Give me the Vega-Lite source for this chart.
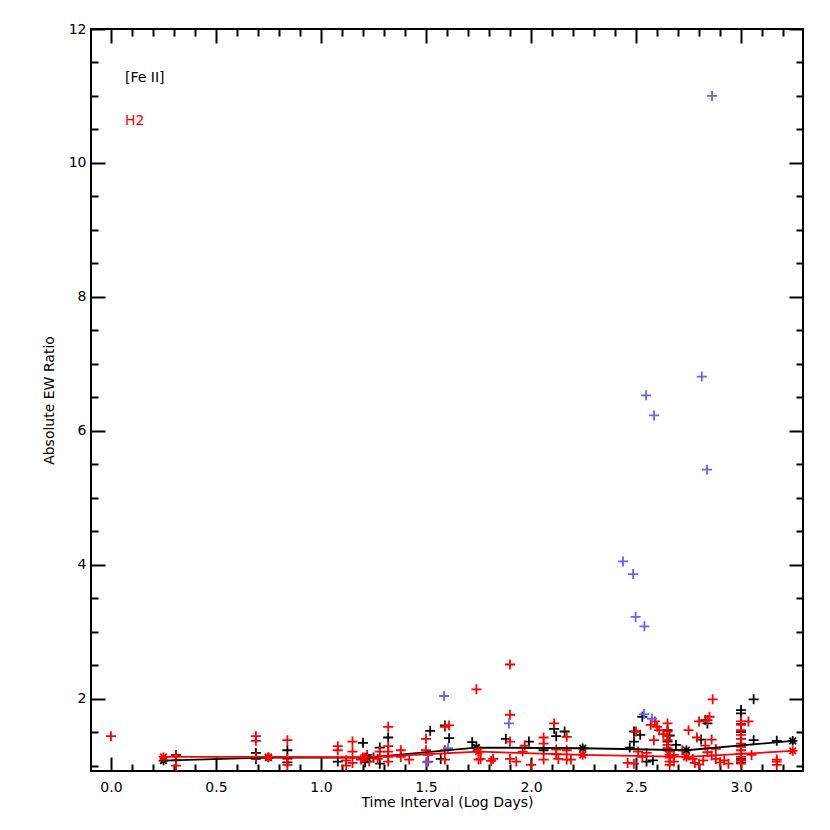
{
  "$schema": "https://vega.github.io/schema/vega-lite/v6.json",
  "width": 712,
  "height": 742,
  "autosize": {"type": "none"},
  "padding": {"left": 91, "top": 29, "right": 27, "bottom": 59},
  "background": "white",
  "config": {
    "view": {"stroke": "black", "strokeWidth": 2},
    "axis": {"labelFont": "DejaVu Sans", "titleFont": "DejaVu Sans", "labelColor": "black", "titleColor": "black", "labelFontSize": 14, "titleFontSize": 14, "titleFontWeight": "normal", "grid": false, "domain": false, "tickColor": "black", "tickWidth": 2}
  },
  "datasets": {
    "pts": [
      {"x": 0.31, "y": 1.16, "s": "F"}, {"x": 0.69, "y": 1.19, "s": "F"}, {"x": 0.69, "y": 1.10, "s": "F"},
      {"x": 0.84, "y": 1.23, "s": "F"}, {"x": 0.84, "y": 1.05, "s": "F"}, {"x": 1.08, "y": 1.06, "s": "F"},
      {"x": 1.20, "y": 1.34, "s": "F"}, {"x": 1.21, "y": 1.05, "s": "F"}, {"x": 1.25, "y": 1.12, "s": "F"},
      {"x": 1.28, "y": 1.27, "s": "F"}, {"x": 1.28, "y": 1.03, "s": "F"}, {"x": 1.32, "y": 1.42, "s": "F"},
      {"x": 1.52, "y": 1.52, "s": "F"}, {"x": 1.57, "y": 1.10, "s": "F"}, {"x": 1.59, "y": 1.60, "s": "F"},
      {"x": 1.61, "y": 1.41, "s": "F"}, {"x": 1.72, "y": 1.35, "s": "F"}, {"x": 1.88, "y": 1.40, "s": "F"},
      {"x": 1.99, "y": 1.36, "s": "F"}, {"x": 2.06, "y": 1.23, "s": "F"}, {"x": 2.11, "y": 1.55, "s": "F"},
      {"x": 2.12, "y": 1.44, "s": "F"}, {"x": 2.16, "y": 1.51, "s": "F"}, {"x": 2.47, "y": 1.27, "s": "F"},
      {"x": 2.49, "y": 1.51, "s": "F"}, {"x": 2.49, "y": 1.36, "s": "F"}, {"x": 2.52, "y": 1.46, "s": "F"},
      {"x": 2.53, "y": 1.73, "s": "F"}, {"x": 2.55, "y": 1.06, "s": "F"}, {"x": 2.58, "y": 1.08, "s": "F"},
      {"x": 2.65, "y": 1.53, "s": "F"}, {"x": 2.65, "y": 1.36, "s": "F"}, {"x": 2.65, "y": 1.23, "s": "F"},
      {"x": 2.66, "y": 1.45, "s": "F"}, {"x": 2.69, "y": 1.31, "s": "F"}, {"x": 2.81, "y": 1.39, "s": "F"},
      {"x": 2.83, "y": 1.68, "s": "F"}, {"x": 2.84, "y": 1.63, "s": "F"}, {"x": 3.00, "y": 1.83, "s": "F"},
      {"x": 3.00, "y": 1.78, "s": "F"}, {"x": 3.00, "y": 1.62, "s": "F"}, {"x": 3.00, "y": 1.50, "s": "F"},
      {"x": 3.00, "y": 1.10, "s": "F"}, {"x": 3.00, "y": 1.05, "s": "F"}, {"x": 3.06, "y": 1.99, "s": "F"},
      {"x": 3.06, "y": 1.38, "s": "F"}, {"x": 3.17, "y": 1.37, "s": "F"},
      {"x": 0.0, "y": 1.44, "s": "H"},
      {"x": 0.31, "y": 1.15, "s": "H"}, {"x": 0.31, "y": 1.08, "s": "H"}, {"x": 0.31, "y": 1.00, "s": "H"},
      {"x": 0.69, "y": 1.44, "s": "H"}, {"x": 0.69, "y": 1.37, "s": "H"}, {"x": 0.69, "y": 1.13, "s": "H"},
      {"x": 0.84, "y": 1.38, "s": "H"}, {"x": 0.84, "y": 1.10, "s": "H"}, {"x": 0.84, "y": 1.01, "s": "H"},
      {"x": 1.08, "y": 1.29, "s": "H"}, {"x": 1.08, "y": 1.23, "s": "H"},
      {"x": 1.12, "y": 1.08, "s": "H"}, {"x": 1.12, "y": 1.00, "s": "H"},
      {"x": 1.15, "y": 1.36, "s": "H"}, {"x": 1.15, "y": 1.21, "s": "H"}, {"x": 1.15, "y": 1.04, "s": "H"},
      {"x": 1.20, "y": 1.12, "s": "H"}, {"x": 1.22, "y": 1.16, "s": "H"}, {"x": 1.23, "y": 1.06, "s": "H"},
      {"x": 1.19, "y": 1.09, "s": "H"}, {"x": 1.28, "y": 1.21, "s": "H"}, {"x": 1.27, "y": 1.10, "s": "H"},
      {"x": 1.32, "y": 1.58, "s": "H"}, {"x": 1.32, "y": 1.29, "s": "H"}, {"x": 1.32, "y": 1.21, "s": "H"},
      {"x": 1.32, "y": 1.13, "s": "H"}, {"x": 1.32, "y": 1.06, "s": "H"},
      {"x": 1.38, "y": 1.23, "s": "H"}, {"x": 1.38, "y": 1.13, "s": "H"}, {"x": 1.42, "y": 1.09, "s": "H"},
      {"x": 1.50, "y": 1.40, "s": "H"}, {"x": 1.50, "y": 1.23, "s": "H"}, {"x": 1.51, "y": 1.16, "s": "H"},
      {"x": 1.51, "y": 1.06, "s": "H"}, {"x": 1.59, "y": 1.58, "s": "H"}, {"x": 1.61, "y": 1.60, "s": "H"},
      {"x": 1.59, "y": 1.23, "s": "H"}, {"x": 1.59, "y": 1.09, "s": "H"},
      {"x": 1.74, "y": 2.14, "s": "H"}, {"x": 1.75, "y": 1.09, "s": "H"}, {"x": 1.76, "y": 1.10, "s": "H"},
      {"x": 1.82, "y": 1.10, "s": "H"}, {"x": 1.81, "y": 1.07, "s": "H"},
      {"x": 1.90, "y": 2.51, "s": "H"}, {"x": 1.90, "y": 1.76, "s": "H"}, {"x": 1.90, "y": 1.36, "s": "H"},
      {"x": 1.90, "y": 1.10, "s": "H"}, {"x": 1.93, "y": 1.06, "s": "H"}, {"x": 1.96, "y": 1.21, "s": "H"},
      {"x": 1.97, "y": 1.30, "s": "H"}, {"x": 2.00, "y": 1.01, "s": "H"},
      {"x": 2.06, "y": 1.42, "s": "H"}, {"x": 2.06, "y": 1.33, "s": "H"}, {"x": 2.06, "y": 1.09, "s": "H"},
      {"x": 2.11, "y": 1.63, "s": "H"}, {"x": 2.12, "y": 1.24, "s": "H"}, {"x": 2.12, "y": 1.17, "s": "H"},
      {"x": 2.13, "y": 1.10, "s": "H"}, {"x": 2.17, "y": 1.43, "s": "H"}, {"x": 2.17, "y": 1.23, "s": "H"},
      {"x": 2.17, "y": 1.09, "s": "H"}, {"x": 2.19, "y": 1.09, "s": "H"},
      {"x": 2.46, "y": 1.04, "s": "H"}, {"x": 2.49, "y": 1.03, "s": "H"}, {"x": 2.50, "y": 1.51, "s": "H"},
      {"x": 2.51, "y": 1.21, "s": "H"}, {"x": 2.53, "y": 1.13, "s": "H"}, {"x": 2.55, "y": 1.19, "s": "H"},
      {"x": 2.57, "y": 1.61, "s": "H"}, {"x": 2.59, "y": 1.66, "s": "H"}, {"x": 2.61, "y": 1.53, "s": "H"},
      {"x": 2.585, "y": 1.38, "s": "H"}, {"x": 2.60, "y": 1.58, "s": "H"}, {"x": 2.63, "y": 1.47, "s": "H"},
      {"x": 2.65, "y": 1.63, "s": "H"}, {"x": 2.65, "y": 1.51, "s": "H"}, {"x": 2.65, "y": 1.44, "s": "H"},
      {"x": 2.65, "y": 1.38, "s": "H"}, {"x": 2.65, "y": 1.31, "s": "H"}, {"x": 2.65, "y": 1.26, "s": "H"},
      {"x": 2.66, "y": 1.21, "s": "H"}, {"x": 2.66, "y": 1.16, "s": "H"}, {"x": 2.66, "y": 1.12, "s": "H"},
      {"x": 2.66, "y": 1.06, "s": "H"}, {"x": 2.66, "y": 1.01, "s": "H"},
      {"x": 2.68, "y": 1.16, "s": "H"}, {"x": 2.68, "y": 1.06, "s": "H"}, {"x": 2.72, "y": 1.23, "s": "H"},
      {"x": 2.75, "y": 1.53, "s": "H"}, {"x": 2.77, "y": 1.10, "s": "H"}, {"x": 2.78, "y": 1.04, "s": "H"},
      {"x": 2.80, "y": 1.02, "s": "H"}, {"x": 2.82, "y": 1.08, "s": "H"}, {"x": 2.79, "y": 1.42, "s": "H"},
      {"x": 2.80, "y": 1.66, "s": "H"}, {"x": 2.84, "y": 1.68, "s": "H"}, {"x": 2.85, "y": 1.73, "s": "H"},
      {"x": 2.865, "y": 1.99, "s": "H"}, {"x": 2.86, "y": 1.39, "s": "H"}, {"x": 2.83, "y": 1.30, "s": "H"},
      {"x": 2.84, "y": 1.20, "s": "H"}, {"x": 2.86, "y": 1.15, "s": "H"}, {"x": 2.88, "y": 1.10, "s": "H"},
      {"x": 2.90, "y": 1.05, "s": "H"}, {"x": 2.92, "y": 1.08, "s": "H"}, {"x": 2.94, "y": 1.03, "s": "H"},
      {"x": 2.88, "y": 1.25, "s": "H"},
      {"x": 3.00, "y": 1.66, "s": "H"}, {"x": 3.00, "y": 1.61, "s": "H"}, {"x": 3.00, "y": 1.53, "s": "H"},
      {"x": 3.00, "y": 1.46, "s": "H"}, {"x": 3.00, "y": 1.40, "s": "H"}, {"x": 3.00, "y": 1.33, "s": "H"},
      {"x": 3.00, "y": 1.28, "s": "H"}, {"x": 3.00, "y": 1.23, "s": "H"}, {"x": 3.00, "y": 1.18, "s": "H"},
      {"x": 3.00, "y": 1.13, "s": "H"}, {"x": 3.00, "y": 1.08, "s": "H"}, {"x": 3.00, "y": 1.03, "s": "H"},
      {"x": 3.035, "y": 1.66, "s": "H"}, {"x": 3.05, "y": 1.16, "s": "H"},
      {"x": 3.17, "y": 1.09, "s": "H"}, {"x": 3.17, "y": 1.06, "s": "H"}, {"x": 3.17, "y": 1.01, "s": "H"},
      {"x": 2.862, "y": 11.0, "s": "B"}, {"x": 2.813, "y": 6.81, "s": "B"}, {"x": 2.548, "y": 6.53, "s": "B"},
      {"x": 2.586, "y": 6.23, "s": "B"}, {"x": 2.838, "y": 5.42, "s": "B"}, {"x": 2.438, "y": 4.05, "s": "B"},
      {"x": 2.486, "y": 3.86, "s": "B"}, {"x": 2.498, "y": 3.22, "s": "B"}, {"x": 2.540, "y": 3.08, "s": "B"},
      {"x": 1.586, "y": 2.04, "s": "B"}, {"x": 1.895, "y": 1.63, "s": "B"}, {"x": 2.538, "y": 1.77, "s": "B"},
      {"x": 2.576, "y": 1.70, "s": "B"}, {"x": 1.505, "y": 1.05, "s": "B"}, {"x": 1.605, "y": 1.26, "s": "B"}
    ],
    "means": [
      {"x": 0.25, "y": 1.075, "s": "F"}, {"x": 0.75, "y": 1.12, "s": "F"}, {"x": 1.22, "y": 1.12, "s": "F"},
      {"x": 1.74, "y": 1.27, "s": "F"}, {"x": 2.246, "y": 1.26, "s": "F"}, {"x": 2.74, "y": 1.23, "s": "F"},
      {"x": 3.246, "y": 1.37, "s": "F"},
      {"x": 0.25, "y": 1.13, "s": "H"}, {"x": 0.75, "y": 1.13, "s": "H"}, {"x": 1.21, "y": 1.125, "s": "H"},
      {"x": 1.75, "y": 1.21, "s": "H"}, {"x": 2.246, "y": 1.16, "s": "H"}, {"x": 2.74, "y": 1.13, "s": "H"},
      {"x": 3.246, "y": 1.22, "s": "H"}
    ],
    "labels": [
      {"x": 0.067, "y": 11.27, "s": "F", "t": "[Fe II]"},
      {"x": 0.067, "y": 10.63, "s": "H", "t": "H2"}
    ]
  },
  "resolve": {"axis": {"x": "independent", "y": "independent"}},
  "layer": [
    {
      "data": {"name": "pts"},
      "mark": {"type": "point", "shape": "M-1,0L1,0M0,-1L0,1", "filled": false, "size": 100, "strokeWidth": 1.8, "opacity": 1},
      "encoding": {
        "x": {"field": "x", "type": "quantitative", "scale": {"domain": [-0.095, 3.295], "nice": false, "zero": false},
              "axis": {"orient": "bottom", "title": "Time Interval (Log Days)", "values": [0, 0.5, 1, 1.5, 2, 2.5, 3], "format": ".1f", "ticks": false, "labelPadding": 9, "titlePadding": 1}},
        "y": {"field": "y", "type": "quantitative", "scale": {"domain": [0.92, 12], "nice": false, "zero": false},
              "axis": {"orient": "left", "title": "Absolute EW Ratio", "values": [2, 4, 6, 8, 10, 12], "format": "d", "ticks": false, "labelPadding": 5, "titlePadding": 12}},
        "color": {"field": "s", "type": "nominal", "scale": {"domain": ["F", "H", "B"], "range": ["#000000", "#ff0000", "#6464ff"]}, "legend": null}
      }
    },
    {
      "data": {"name": "means"},
      "mark": {"type": "line", "strokeWidth": 1.8},
      "encoding": {
        "x": {"field": "x", "type": "quantitative",
              "axis": {"orient": "bottom", "title": null, "labels": false, "values": [0, 0.1, 0.2, 0.3, 0.4, 0.5, 0.6, 0.7, 0.8, 0.9, 1, 1.1, 1.2, 1.3, 1.4, 1.5, 1.6, 1.7, 1.8, 1.9, 2, 2.1, 2.2, 2.3, 2.4, 2.5, 2.6, 2.7, 2.8, 2.9, 3, 3.1, 3.2],
                       "tickSize": {"condition": {"test": "abs(datum.value*2 - round(datum.value*2)) < 0.01", "value": -14}, "value": -7}}},
        "y": {"field": "y", "type": "quantitative",
              "axis": {"orient": "left", "title": null, "labels": false, "values": [1, 1.5, 2, 2.5, 3, 3.5, 4, 4.5, 5, 5.5, 6, 6.5, 7, 7.5, 8, 8.5, 9, 9.5, 10, 10.5, 11, 11.5, 12],
                       "tickSize": {"condition": {"test": "abs(datum.value/2 - round(datum.value/2)) < 0.01", "value": -14}, "value": -7}}},
        "color": {"field": "s", "type": "nominal", "legend": null}
      }
    },
    {
      "data": {"name": "means"},
      "mark": {"type": "point", "shape": "M-1,0L1,0M0,-1L0,1M-0.7,-0.7L0.7,0.7M-0.7,0.7L0.7,-0.7", "filled": false, "size": 90, "strokeWidth": 1.8, "opacity": 1},
      "encoding": {
        "x": {"field": "x", "type": "quantitative",
              "axis": {"orient": "top", "title": null, "labels": false, "values": [0, 0.1, 0.2, 0.3, 0.4, 0.5, 0.6, 0.7, 0.8, 0.9, 1, 1.1, 1.2, 1.3, 1.4, 1.5, 1.6, 1.7, 1.8, 1.9, 2, 2.1, 2.2, 2.3, 2.4, 2.5, 2.6, 2.7, 2.8, 2.9, 3, 3.1, 3.2],
                       "tickSize": {"condition": {"test": "abs(datum.value*2 - round(datum.value*2)) < 0.01", "value": -14}, "value": -7}}},
        "y": {"field": "y", "type": "quantitative",
              "axis": {"orient": "right", "title": null, "labels": false, "values": [1, 1.5, 2, 2.5, 3, 3.5, 4, 4.5, 5, 5.5, 6, 6.5, 7, 7.5, 8, 8.5, 9, 9.5, 10, 10.5, 11, 11.5, 12],
                       "tickSize": {"condition": {"test": "abs(datum.value/2 - round(datum.value/2)) < 0.01", "value": -14}, "value": -7}}},
        "color": {"field": "s", "type": "nominal", "legend": null}
      }
    },
    {
      "data": {"name": "labels"},
      "mark": {"type": "text", "align": "left", "baseline": "middle", "font": "DejaVu Sans", "fontSize": 14},
      "encoding": {
        "x": {"field": "x", "type": "quantitative", "axis": null},
        "y": {"field": "y", "type": "quantitative", "axis": null},
        "text": {"field": "t"},
        "color": {"field": "s", "type": "nominal", "legend": null}
      }
    }
  ]
}
